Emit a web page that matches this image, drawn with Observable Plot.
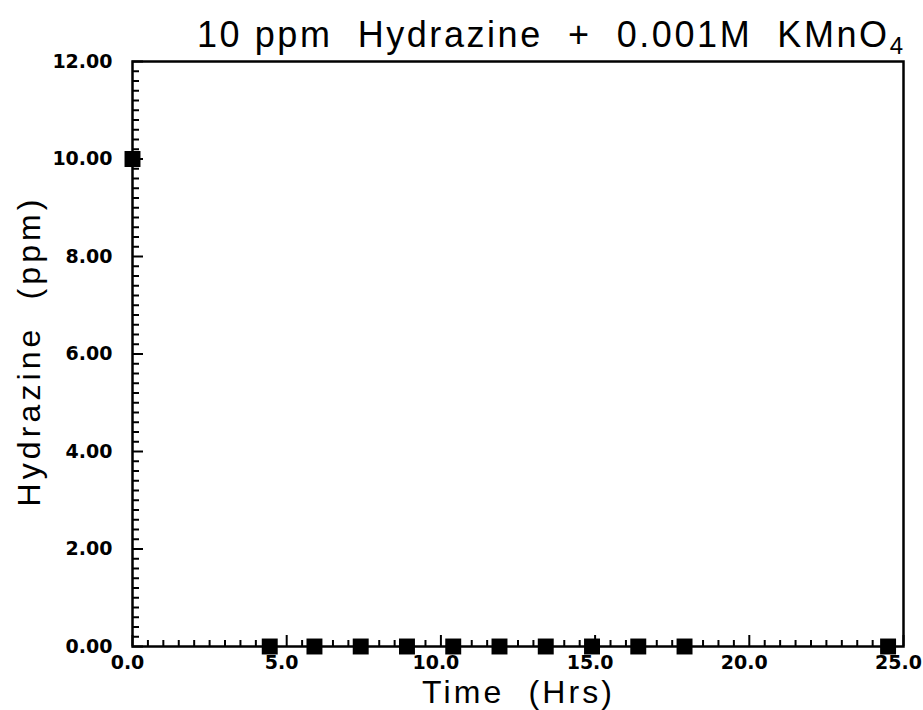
<!DOCTYPE html>
<html>
<head>
<meta charset="utf-8">
<script src="https://cdn.jsdelivr.net/npm/d3@7"></script>
<script src="https://cdn.jsdelivr.net/npm/@observablehq/plot@0.6"></script>
<style>
  html, body { margin: 0; padding: 0; background: #fff; }
  svg text { white-space: pre; }
</style>
</head>
<body>
<div id="chart"></div>
<script>
// ---- data ----
const times = [0, 4.45, 5.9, 7.4, 8.9, 10.4, 11.9, 13.4, 14.9, 16.4, 17.9, 24.5];
const hydrazine = [10, 0, 0, 0, 0, 0, 0, 0, 0, 0, 0, 0];
const xMajorTicks = [0, 5, 10, 15, 20, 25];
const xTickLabels = ["0.0", "5.0", "10.0", "15.0", "20.0", "25.0"];
const yMajorTicks = [0, 2, 4, 6, 8, 10, 12];
const yTickLabels = ["0.00", "2.00", "4.00", "6.00", "8.00", "10.00", "12.00"];
const xMinorTicks = d3.range(0, 25.001, 0.5).filter(v => Math.abs(v % 5) > 1e-9);
const yMinorTicks = d3.range(0, 12.001, 0.2).filter(v => Math.abs((v + 1e-9) % 2) > 1e-6);
const titleText = "10 ppm  Hydrazine  +  0.001M  KMnO";
const titleSub = "4";
const xLabel = "Time  (Hrs)";
const yLabel = "Hydrazine  (ppm)";

const data = times.map((t, i) => ({t, v: hydrazine[i]}));

const W = 923, H = 710, mL = 132, mR = 20, mT = 61, mB = 64;
const fw = W - mL - mR, fh = H - mT - mB;

const svg = Plot.plot({
  width: W, height: H,
  marginLeft: mL, marginRight: mR, marginTop: mT, marginBottom: mB,
  style: {background: "white", fontFamily: "DejaVu Sans", fontSize: "19px", color: "black"},
  x: {domain: [0, 25]},
  y: {domain: [0, 12]},
  marks: [
    Plot.tickX(xMinorTicks, {x: d => d, insetTop: fh - 6, stroke: "black", strokeWidth: 2}),
    Plot.tickX(xMajorTicks, {x: d => d, insetTop: fh - 11, stroke: "black", strokeWidth: 2}),
    Plot.tickY(yMinorTicks, {y: d => d, insetRight: fw - 7, stroke: "black", strokeWidth: 2}),
    Plot.tickY(yMajorTicks, {y: d => d, insetRight: fw - 11, stroke: "black", strokeWidth: 2}),
    Plot.axisX(xMajorTicks, {
      label: null, tickSize: 0, tickPadding: 9, dx: -5,
      tickFormat: d => xTickLabels[xMajorTicks.indexOf(d)],
      fontSize: 19, fontWeight: "bold", fontFamily: "DejaVu Sans"
    }),
    Plot.axisY(yMajorTicks, {
      label: null, tickSize: 0, tickPadding: 20,
      tickFormat: d => yTickLabels[yMajorTicks.indexOf(d)],
      fontSize: 19, fontWeight: "bold", fontFamily: "DejaVu Sans"
    }),
    Plot.frame({stroke: "black", strokeWidth: 2.5}),
    Plot.dot(data, {x: "t", y: "v", symbol: "square", r: 9, fill: "black", stroke: "none"})
  ]
});

const s = d3.select(svg);
s.selectAll('g[aria-label$="tick label"] text')
  .style("font-size", "19px").style("font-weight", "bold").style("font-family", "'DejaVu Sans'");

const title = s.append("text")
  .attr("x", 197).attr("y", 47)
  .attr("text-anchor", "start")
  .style("font-family", "'Liberation Sans'").style("font-size", "36px")
  .attr("fill", "black")
  .attr("textLength", 706).attr("lengthAdjust", "spacing");
title.append("tspan").text(titleText);
title.append("tspan").style("font-size", "24px").attr("dy", 7).text(titleSub);

s.append("text")
  .attr("x", 517).attr("y", 703)
  .attr("text-anchor", "middle")
  .style("font-family", "'Liberation Sans'").style("font-size", "32px")
  .attr("fill", "black")
  .attr("textLength", 190).attr("lengthAdjust", "spacing")
  .text(xLabel);

s.append("text")
  .attr("transform", "translate(40,353) rotate(-90)")
  .attr("text-anchor", "middle")
  .style("font-family", "'Liberation Sans'").style("font-size", "32px")
  .attr("fill", "black")
  .attr("textLength", 307).attr("lengthAdjust", "spacing")
  .text(yLabel);

document.getElementById("chart").appendChild(svg);
</script>
</body>
</html>
